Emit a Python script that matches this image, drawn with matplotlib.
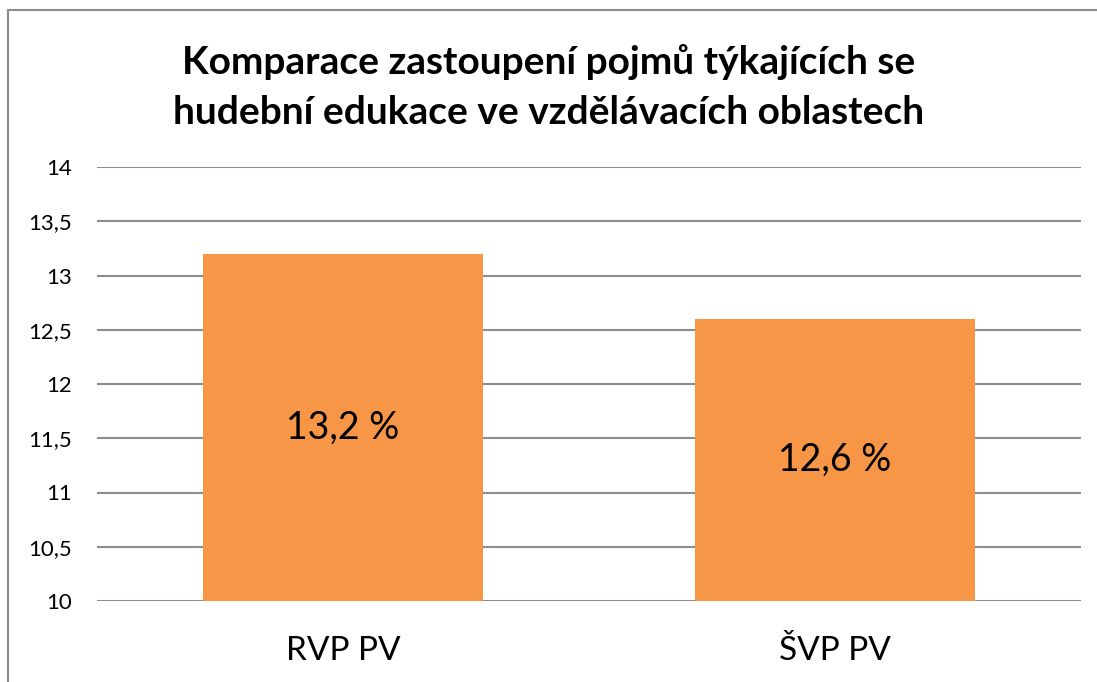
import matplotlib.pyplot as plt
from matplotlib.lines import Line2D

kategorie = ["RVP PV", "ŠVP PV"]
hodnoty = [13.2, 12.6]
popisky = ["13,2 %", "12,6 %"]
yticks = [10, 10.5, 11, 11.5, 12, 12.5, 13, 13.5, 14]
ytick_labels = ["10", "10,5", "11", "11,5", "12", "12,5", "13", "13,5", "14"]

plt.rcParams['font.family'] = ['Lato', 'DejaVu Sans']

fig = plt.figure(figsize=(10.97, 6.82), dpi=100)
ax = fig.add_axes([97/1097, 1 - 601/682, (1081 - 97)/1097, (601 - 167)/682])

x = range(len(kategorie))
ax.bar(x, hodnoty, width=0.57, bottom=0, color="#F79646", zorder=2)
ax.set_xlim(-0.5, 1.5)
ax.set_ylim(10, 14)
ax.set_yticks(yticks)
ax.set_yticklabels(ytick_labels, fontsize=16)
ax.set_xticks(list(x))
ax.set_xticklabels(kategorie, fontsize=24)
ax.tick_params(axis='y', length=0, pad=18)
ax.tick_params(axis='x', length=0, pad=25)
ax.grid(axis='y', color="#8c8c8c", linewidth=1.5, zorder=0)
for s in ax.spines.values():
    s.set_visible(False)

for i, (v, t) in enumerate(zip(hodnoty, popisky)):
    ax.text(i, (10 + v) / 2, t, ha='center', va='center', fontsize=27, zorder=3)

fig.text(0.5, 1 - 87/682, "Komparace zastoupení pojmů týkajících se\nhudební edukace ve vzdělávacích oblastech",
         ha='center', va='center', fontsize=28, fontweight='bold', linespacing=1.5)

# chart frame (only left and top edges visible)
fig.add_artist(Line2D([8/1097, 8/1097], [0, 1 - 10/682], transform=fig.transFigure, color="#8c8c8c", linewidth=1.5))
fig.add_artist(Line2D([8/1097, 1], [1 - 10/682, 1 - 10/682], transform=fig.transFigure, color="#8c8c8c", linewidth=1.5))

fig.savefig("out.png", dpi=100)
